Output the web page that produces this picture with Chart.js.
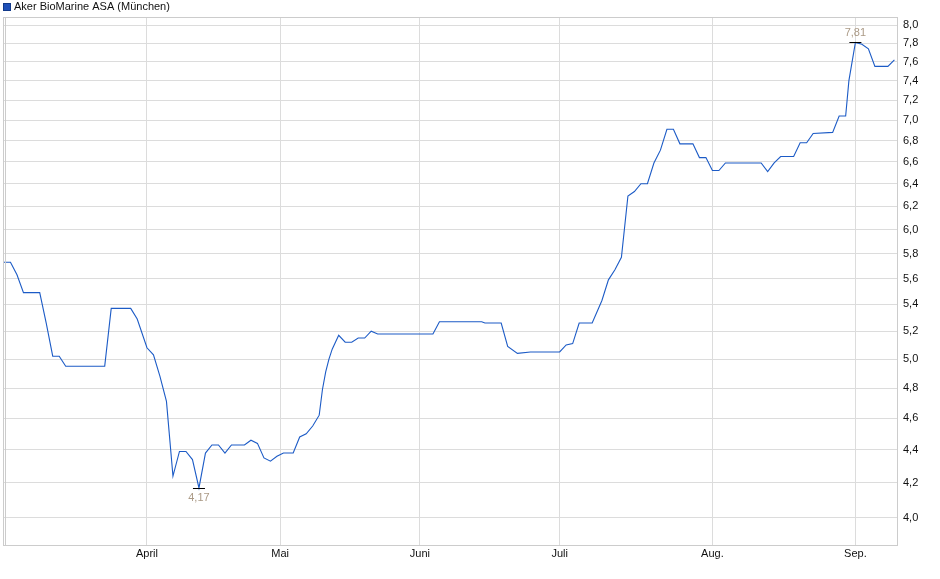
<!DOCTYPE html>
<html>
<head>
<meta charset="utf-8">
<script src="https://cdn.jsdelivr.net/npm/chart.js@4"></script>
<style>
  html, body { margin: 0; padding: 0; background: #fff; }
  #wrap { width: 940px; height: 579px; }
</style>
</head>
<body>
<div id="wrap"><canvas id="priceChart" width="940" height="579"></canvas></div>
<script>
// --- Data (trading-day index, price in EUR) ---
const seriesName = 'Aker BioMarine ASA (München)';

const days = [
    0, 1, 2, 3, 5.5, 6.5, 7.5, 8.5, 9.5, 15.5, 16.5, 19.5, 20.5, 22, 23, 24, 25, 26, 27, 28,
    29, 30, 31, 32, 33, 34, 35, 37, 38, 39, 40, 41, 42, 43, 44.5, 45.5, 46.5, 47.5, 48.5, 49,
    49.5, 50, 50.5, 51.5, 52.5, 53.5, 54.5, 55.5, 56.5, 57.5, 66, 67, 73.5, 74, 76.5, 77.5, 79, 81, 85.5, 86.5,
    87.5, 88.5, 90.5, 92, 93, 94, 95, 96, 97, 98, 99, 100, 101, 102, 103, 104, 106, 107, 108, 109,
    110, 111, 116.5, 117.5, 118.5, 119.5, 121.5, 122.5, 123.5, 124.5, 127.5, 128.5, 129.5, 130, 131, 132, 133, 134, 136, 137
];

const prices = [
    5.73, 5.73, 5.63, 5.49, 5.49, 5.26, 5.02, 5.02, 4.95, 4.95, 5.37, 5.37, 5.29, 5.08, 5.03, 4.88, 4.71, 4.24, 4.39, 4.39,
    4.34, 4.17, 4.38, 4.43, 4.43, 4.38, 4.43, 4.43, 4.46, 4.44, 4.35, 4.33, 4.36, 4.38, 4.38, 4.48, 4.50, 4.55, 4.62, 4.79,
    4.91, 5.00, 5.07, 5.17, 5.12, 5.12, 5.15, 5.15, 5.20, 5.18, 5.18, 5.27, 5.27, 5.26, 5.26, 5.09, 5.04, 5.05, 5.05, 5.10,
    5.11, 5.26, 5.26, 5.43, 5.59, 5.67, 5.77, 6.29, 6.33, 6.40, 6.40, 6.59, 6.71, 6.91, 6.91, 6.77, 6.77, 6.64, 6.64, 6.52,
    6.52, 6.59, 6.59, 6.51, 6.59, 6.65, 6.65, 6.78, 6.78, 6.87, 6.88, 7.04, 7.04, 7.40, 7.81, 7.79, 7.74, 7.55, 7.55, 7.62
];

const monthLabels = ['April', 'Mai', 'Juni', 'Juli', 'Aug.', 'Sep.'];
const monthTicks = [22, 42.5, 64, 85.5, 109, 131];

const yTicks = [4.0, 4.2, 4.4, 4.6, 4.8, 5.0, 5.2, 5.4, 5.6, 5.8, 6.0, 6.2, 6.4, 6.6, 6.8, 7.0, 7.2, 7.4, 7.6, 7.8, 8.0];

const LINE_COLOR = '#1c5bc6';
const GRID_COLOR = '#dcdcdc';
const FONT = '"Liberation Sans", Arial, sans-serif';

const fmt = v => v.toFixed(2).replace('.', ',');

// --- Frame, legend and min/max markers ---
const decorations = {
    id: 'decorations',
    afterDraw(chart) {
        const { ctx, chartArea: a, scales } = chart;
        ctx.save();

        // plot frame
        ctx.strokeStyle = '#cccccc';
        ctx.lineWidth = 1;
        ctx.strokeRect(Math.round(a.left) + 0.5, Math.round(a.top) + 0.5,
            Math.round(a.right - a.left), Math.round(a.bottom - a.top));
        ctx.beginPath();
        ctx.moveTo(Math.round(a.left) + 2.5, a.top);
        ctx.lineTo(Math.round(a.left) + 2.5, a.bottom);
        ctx.stroke();

        // legend
        ctx.fillStyle = '#1f50b8';
        ctx.fillRect(3, 3, 8, 8);
        ctx.strokeStyle = '#123a8a';
        ctx.strokeRect(3.5, 3.5, 7, 7);
        ctx.fillStyle = '#111';
        ctx.font = '11px ' + FONT;
        ctx.textBaseline = 'middle';
        ctx.textAlign = 'left';
        ctx.fillText(seriesName, 14, 7);

        // min / max markers
        const minV = Math.min(...prices);
        const maxV = Math.max(...prices);
        const marks = [
            { v: minV, i: prices.indexOf(minV), dy: 10 },
            { v: maxV, i: prices.indexOf(maxV), dy: -9 }
        ];
        marks.forEach(m => {
            const x = scales.x.getPixelForValue(days[m.i]);
            const y = scales.y.getPixelForValue(m.v);
            ctx.strokeStyle = '#000';
            ctx.lineWidth = 1;
            ctx.beginPath();
            ctx.moveTo(x - 6, Math.round(y) + 0.5);
            ctx.lineTo(x + 6, Math.round(y) + 0.5);
            ctx.stroke();
            ctx.fillStyle = '#ab9a86';
            ctx.textAlign = 'center';
            ctx.fillText(fmt(m.v), x, y + m.dy);
        });
        ctx.restore();
    }
};

// --- Chart.js Initialisation ---
const ctx = document.getElementById('priceChart').getContext('2d');
const priceChart = new Chart(ctx, {
    type: 'line',
    data: {
        datasets: [{
            label: seriesName,
            data: days.map((d, i) => ({ x: d, y: prices[i] })),
            borderColor: LINE_COLOR,
            borderWidth: 1.1,
            pointRadius: 0,
            tension: 0,
            fill: false
        }]
    },
    options: {
        responsive: false,
        animation: false,
        devicePixelRatio: 1,
        layout: { padding: { top: 17, left: 3, right: 0, bottom: 0 } },
        plugins: { legend: { display: false }, tooltip: { enabled: false } },
        scales: {
            x: {
                type: 'linear',
                bounds: 'data',
                min: -0.15,
                max: 137.4,
                afterBuildTicks: s => { s.ticks = monthTicks.map(v => ({ value: v })); },
                afterFit: s => { s.height = 34; },
                grid: { color: GRID_COLOR, drawTicks: false },
                border: { display: false },
                ticks: {
                    padding: 2,
                    color: '#111',
                    font: { family: FONT, size: 11 },
                    maxRotation: 0,
                    autoSkip: false,
                    callback: (v, i) => monthLabels[i]
                }
            },
            y: {
                type: 'logarithmic',
                position: 'right',
                bounds: 'data',
                min: 3.848,
                max: 8.094,
                afterBuildTicks: s => { s.ticks = yTicks.map(v => ({ value: v })); },
                afterFit: s => { s.width = 43; },
                grid: { color: GRID_COLOR, drawTicks: false },
                border: { display: false },
                ticks: {
                    padding: 6,
                    color: '#111',
                    font: { family: FONT, size: 11 },
                    autoSkip: false,
                    callback: v => Number(v).toFixed(1).replace('.', ',')
                }
            }
        }
    },
    plugins: [decorations]
});
</script>
</body>
</html>
